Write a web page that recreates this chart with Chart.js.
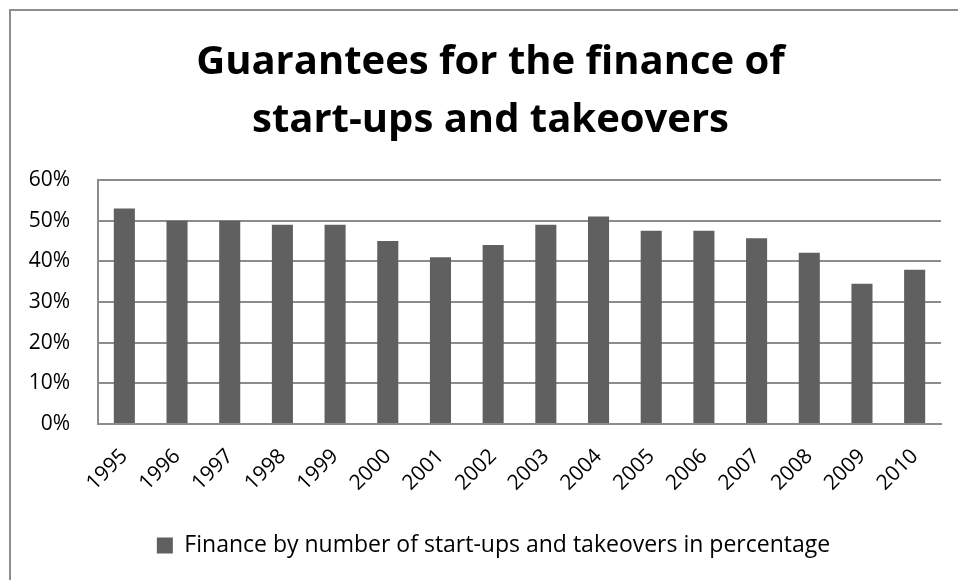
<!DOCTYPE html>
<html><head><meta charset="utf-8">
<script src="https://cdn.jsdelivr.net/npm/chart.js@4"></script>
<style>
html,body{margin:0;padding:0;background:#fff;overflow:hidden;width:958px;height:580px}
#frame{position:absolute;left:9px;top:9px;width:1000px;height:1000px;border-left:2px solid #8e8e8e;border-top:2px solid #8e8e8e;}
canvas{position:absolute;left:0;top:0}
</style></head><body>
<div id="frame"></div>
<canvas id="c" width="958" height="580"></canvas>
<script>
const years = ['1995','1996','1997','1998','1999','2000','2001','2002','2003','2004','2005','2006','2007','2008','2009','2010'];
const financePct = [53, 50, 50, 49, 49, 45, 41, 44, 49, 51, 47.5, 47.5, 45.7, 42.1, 34.5, 37.9];
const yTickValues = [0, 10, 20, 30, 40, 50, 60];
const titleLines = ['Guarantees for the finance of', 'start-ups and takeovers'];
const seriesLabel = 'Finance by number of start-ups and takeovers in percentage';

const gridColor = '#8c8c8c';
const barColor = '#606060';

const shiftBlocks = {
  id: 'shiftBlocks',
  afterLayout(chart) {
    const t = chart.titleBlock, l = chart.legend;
    if (t) { t.left += 20; t.right += 20; }
    if (l) { l.left += 23; l.right += 23; }
  }
};

new Chart(document.getElementById('c'), {
  type: 'bar',
  data: {
    labels: years,
    datasets: [{
      label: seriesLabel,
      data: financePct,
      backgroundColor: barColor,
      borderWidth: 0,
      categoryPercentage: 1.0,
      barPercentage: 0.4
    }]
  },
  plugins: [shiftBlocks],
  options: {
    responsive: false,
    animation: false,
    devicePixelRatio: 1,
    layout: { padding: { left: 0, right: 17, top: 34, bottom: 13 } },
    plugins: {
      title: {
        display: true,
        text: titleLines,
        color: '#000',
        font: { family: '"Open Sans"', size: 40, weight: 'bold', lineHeight: 1.45 },
        padding: { top: 0, bottom: 30 }
      },
      legend: {
        display: true,
        position: 'bottom',
        labels: {
          color: '#000',
          font: { family: '"Open Sans"', size: 23 },
          boxWidth: 16,
          boxHeight: 16,
          padding: 10
        }
      },
      tooltip: { enabled: false }
    },
    scales: {
      x: {
        grid: { display: false, drawTicks: false },
        border: { display: true, color: gridColor, width: 2 },
        ticks: {
          color: '#000',
          font: { family: '"Open Sans"', size: 21 },
          minRotation: 45,
          maxRotation: 45,
          padding: 20,
          autoSkip: false
        },
        afterFit(scale) { scale.height = 100; }
      },
      y: {
        min: 0,
        max: 60,
        afterBuildTicks(scale) { scale.ticks = yTickValues.map(v => ({ value: v })); },
        grid: { color: gridColor, lineWidth: 2, drawTicks: false },
        border: { display: true, color: gridColor, width: 2 },
        ticks: {
          color: '#000',
          font: { family: '"Open Sans"', size: 21 },
          padding: 28,
          callback: v => v + '%'
        },
        afterFit(scale) { scale.width = 98; }
      }
    }
  }
});
</script>
</body></html>
